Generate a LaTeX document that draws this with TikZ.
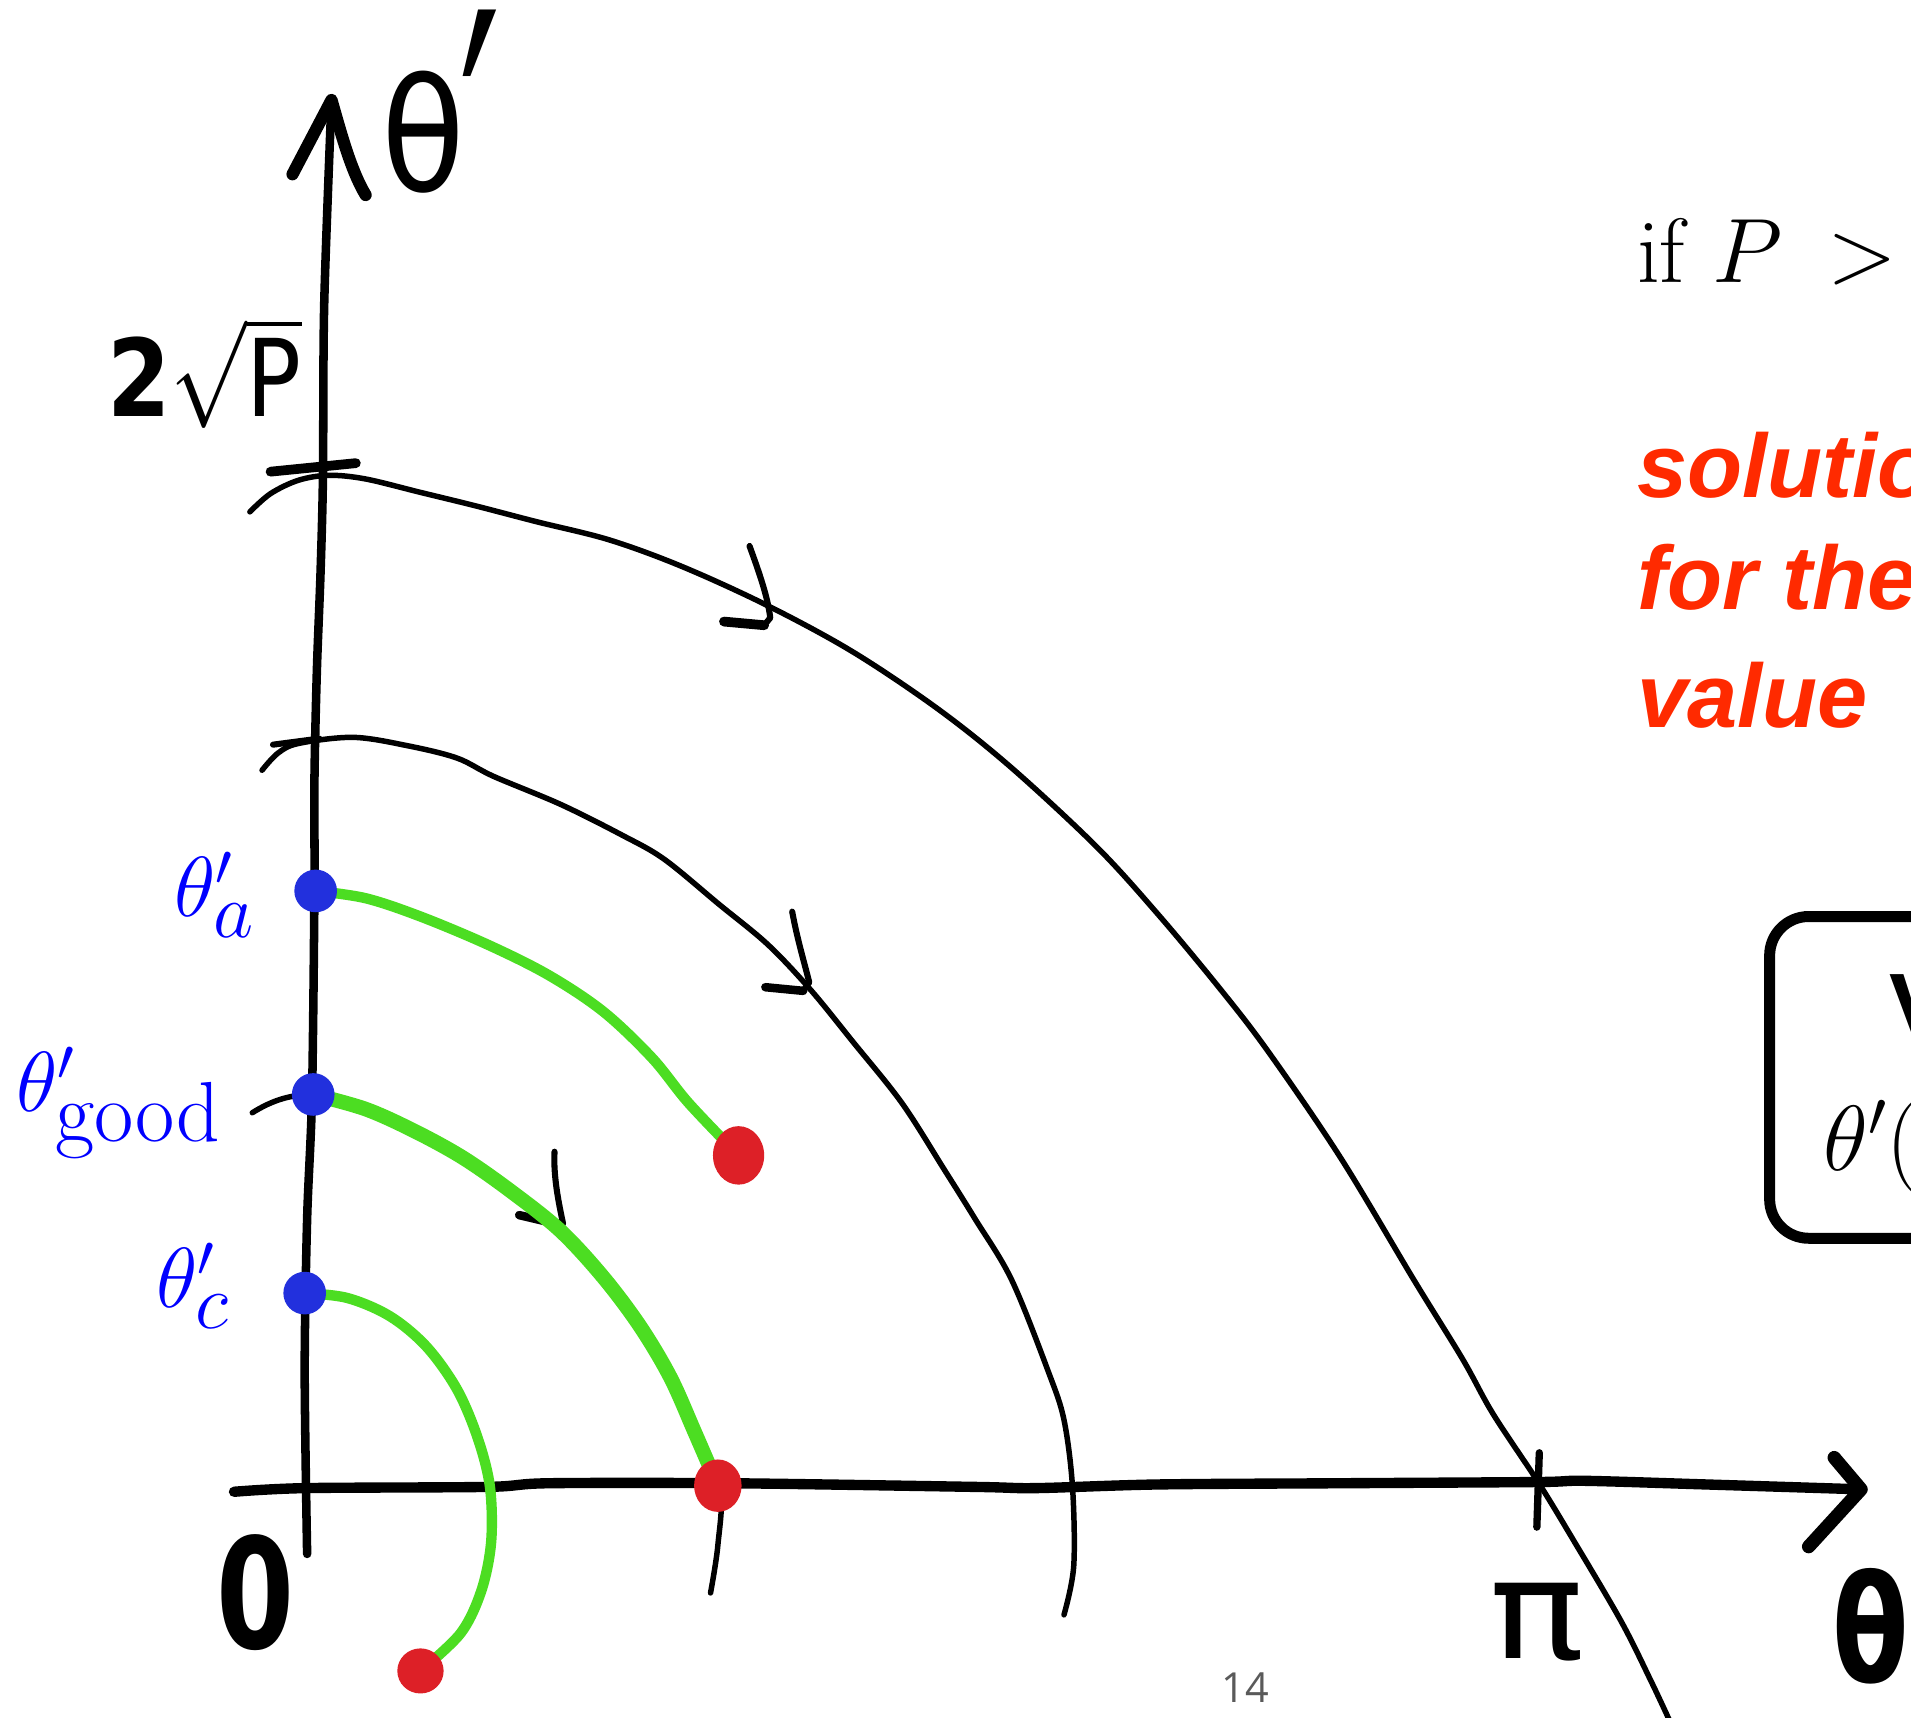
\RequirePackage{fix-cm}
\documentclass[tikz,border=0pt]{standalone}
\usepackage{fontspec}
\newfontfamily\hand{DejaVu Sans}
\newfontfamily\handbold{DejaVu Sans Bold}
\newfontfamily\helv{Liberation Sans}
\newfontfamily\pagefont{Open Sans}
\usetikzlibrary{shapes.geometric}
\definecolor{dotblue}{RGB}{34,48,221}
\definecolor{labblue}{RGB}{0,0,255}
\definecolor{trgreen}{RGB}{76,221,34}
\definecolor{dotred}{RGB}{221,32,39}
\definecolor{txtred}{RGB}{255,42,0}
\definecolor{pagegray}{RGB}{90,90,90}
\newcommand{\subsz}[2]{\hbox{\fontsize{#1}{#1}\selectfont #2}}
\tikzset{
  axisline/.style={line width=7pt, line cap=round, line join=round},
  orbit/.style={line width=4.5pt, line cap=round, line join=round},
  chev/.style={line width=5pt, line cap=round, line join=round},
  greenpath/.style={trgreen, line width=8.5pt, line cap=round, line join=round},
  bluedot/.style={circle, fill=dotblue, inner sep=0pt, minimum size=35pt},
  reddot/.style={ellipse, fill=dotred, inner sep=0pt},
  bluelab/.style={labblue, inner sep=0pt, font=\fontsize{70}{80}\selectfont},
  redtxt/.style={txtred, inner sep=0pt, anchor=base west, font=\helv\bfseries\itshape\fontsize{74}{80}\selectfont},
}
\begin{document}
\begin{tikzpicture}[x=1pt,y=-1pt]
\useasboundingbox (0,0) rectangle (1568,1409);
\clip (0,0) rectangle (1568,1409);
\fill[white] (0,0) rectangle (1568,1409);

% key points
\coordinate (ba) at (259,731);
\coordinate (bg) at (257,898);
\coordinate (bc) at (250,1061);
\coordinate (ra) at (606,948);
\coordinate (rg) at (589,1219);
\coordinate (rc) at (345,1371);
\coordinate (ytop) at (272,82);
\coordinate (xend) at (1527,1222);

% vertical axis
\draw[axisline] plot[smooth, tension=0.5] coordinates {(252,1275) (250,1125) (252,1000) (256,900) (258,730) (258,640) (260,550) (263,470) (265,390) (266,250) (ytop)};
\draw[line width=10pt, line cap=round, line join=round] (240,143) -- (ytop) .. controls (280,110) and (288,140) .. (300,160);

% horizontal axis
\draw[line width=8.5pt, line cap=round, line join=round] plot[smooth, tension=0.5] coordinates {(192,1224) (250,1221) (400,1220) (450,1217) (600,1217) (800,1220) (850,1221) (950,1218) (1100,1217) (1262,1216) (1300,1215) (1400,1218) (xend)};
\draw[line width=11pt, line cap=round, line join=round] (1505,1196) -- (xend) -- (1484,1269);

% ticks
\draw[line width=8pt, line cap=round] (222,387) -- (292,380);
\draw[line width=5pt, line cap=round] (224,611) -- (262,606);
\draw[line width=6pt, line cap=round] (1263,1192) -- (1261,1253);

% outer orbit
\draw[orbit] plot[smooth, tension=0.55] coordinates {(205,420) (222,405) (245,394) (270,390) (300,393) (345,404) (390,415) (440,428) (500,443) (560,465) (630,497) (700,535) (770,582) (830,630) (900,695) (950,750) (1000,810) (1040,862) (1100,950) (1160,1050) (1200,1115) (1225,1160) (1262,1216) (1290,1262) (1330,1330) (1355,1380) (1370,1412)};
\draw[chev] (615,448) .. controls (623,470) and (630,490) .. (632,507) -- (627,513);
\draw[line width=8pt, line cap=round] (627,513) -- (594,510);

% second orbit
\draw[orbit] plot[smooth, tension=0.55] coordinates {(215,632) (228,618) (245,610) (290,605) (335,612) (375,622) (405,637) (460,660) (510,685) (545,705) (590,742) (630,775) (665,812) (700,855) (740,905) (775,960) (800,1000) (830,1050) (860,1125) (873,1165) (880,1220) (881,1285) (873,1325)};
\draw[chev] (650,748) .. controls (654,770) and (660,790) .. (664,806) -- (659,813);
\draw[line width=7pt, line cap=round] (659,813) -- (628,810);

% orbit under theta'_good
\draw[orbit] (207,913) .. controls (220,905) and (235,898) .. (bg);
\draw[orbit] plot[smooth, tension=0.55] coordinates {(bg) (300,911) (340,929) (380,951) (420,979) (460,1011) (495,1049) (525,1089) (551,1131) (571,1176) (591,1219) (589,1268) (583,1307)};
\draw[chev] (455,945) .. controls (454,965) and (458,985) .. (462,1004);
\draw[line width=7pt, line cap=round] (426,997) -- (460,1005);

% green trajectories
\draw[greenpath] plot[smooth, tension=0.55] coordinates {(ba) (300,737) (345,752) (400,775) (450,800) (495,830) (535,868) (565,905) (ra)};
\draw[greenpath, line width=12pt] plot[smooth, tension=0.55] coordinates {(bg) (300,910) (340,928) (380,950) (420,978) (460,1010) (495,1048) (525,1088) (550,1130) (570,1175) (rg)};
\draw[greenpath] plot[smooth, tension=0.55] coordinates {(bc) (285,1065) (320,1080) (350,1105) (375,1140) (392,1180) (402,1220) (403,1265) (395,1305) (378,1340) (rc)};

% dots
\node[bluedot] (dota) at (ba) {};
\node[bluedot] (dotg) at (bg) {};
\node[bluedot] (dotc) at (bc) {};
\node[reddot, minimum width=42pt, minimum height=48pt] (dotra) at (ra) {};
\node[reddot, minimum width=39pt, minimum height=43pt] (dotrg) at (rg) {};
\node[reddot, minimum width=38pt, minimum height=37pt] (dotrc) at (rc) {};

% blue labels
\node[bluelab, anchor=base west] (laba) at (143,752) {$\theta'_{\subsz{64}{$a$}}$};
\node[bluelab, anchor=base west] (labg) at (13,912) {$\theta'_{\subsz{70}{good}}$};
\node[bluelab, anchor=base west] (labc) at (128,1073) {$\theta'_{\subsz{64}{$c$}}$};

% handwritten axis labels
\node[inner sep=0pt, anchor=base west] (thp) at (313,157) {\hand\fontsize{125}{125}\selectfont\scalebox{0.9}[1.03]{θ}\kern-5pt\raisebox{-70pt}{\scalebox{1.2}[2.4]{′}}};
\node[inner sep=0pt, anchor=south west] (twosqrtp) at (88,352) {\scalebox{0.85}[1]{\fontsize{88}{90}\selectfont{\handbold 2}$\sqrt{\hbox{\hand P}}$}};
\node[inner sep=0pt] (zero) at (210,1307) {\handbold\fontsize{126}{126}\selectfont\scalebox{0.73}[1]{0}};
\node[inner sep=0pt] (pilab) at (1261,1331) {\hand\fontsize{113}{113}\selectfont\scalebox{1.15}[1]{π}};
\node[inner sep=0pt, anchor=west] (thx) at (1503,1334) {\handbold\fontsize{122}{122}\selectfont\scalebox{0.75}[1]{θ}};

% right side texts
\node[inner sep=0pt, anchor=base west, font=\fontsize{75}{80}\selectfont] (cond) at (1343,232) {if $P\kern16pt>$};
\node[redtxt] (sol1) at (1343,408) {solution};
\node[redtxt] (sol2) at (1343,500) {for the};
\node[redtxt] (sol3) at (1343,597) {value};

% box
\draw[line width=9pt, rounded corners=32pt] (1452,752) rectangle (1760,1016);
\node[inner sep=0pt, anchor=base west, font=\helv\bfseries\fontsize{75}{80}\selectfont] (boxtop) at (1550,851) {V};
\node[inner sep=0pt, anchor=base west, font=\fontsize{76}{80}\selectfont] (boxbot) at (1496,960) {$\theta'($};

% page number
\node[inner sep=0pt, pagegray, font=\pagefont\fontsize{34}{36}\selectfont] (pgnum) at (1022,1385) {14};
\end{tikzpicture}
\end{document}
